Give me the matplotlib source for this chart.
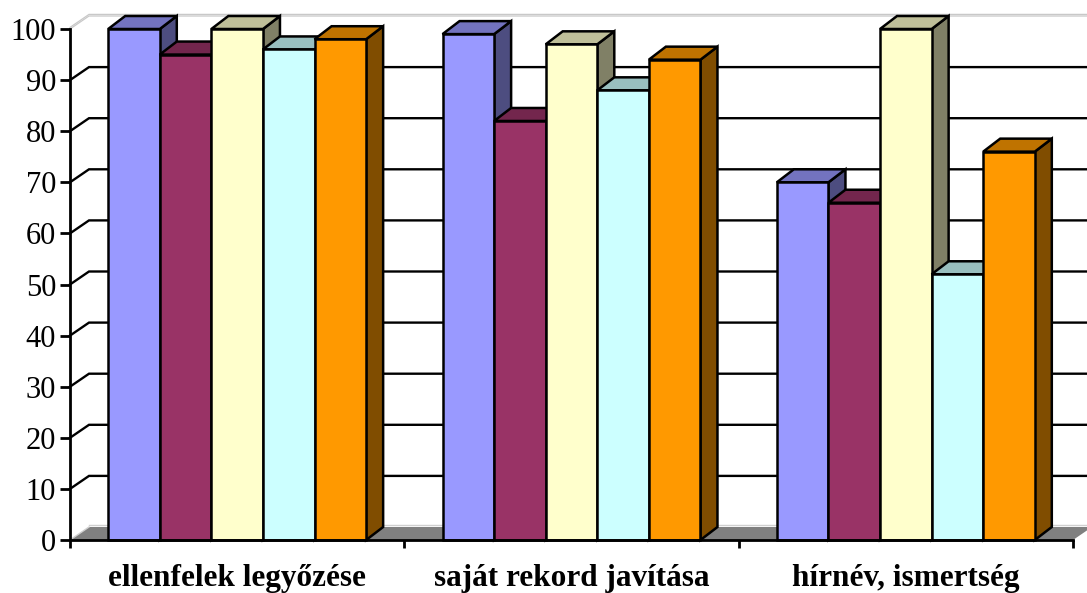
import matplotlib
matplotlib.use("Agg")
import matplotlib.pyplot as plt
from matplotlib.patches import Polygon
from matplotlib.colors import to_rgb

# Data
categories = ["ellenfelek legyőzése", "saját rekord javítása", "hírnév, ismertség"]
series_1 = [100, 99, 70]
series_2 = [95, 82, 66]
series_3 = [100, 97, 100]
series_4 = [96, 88, 52]
series_5 = [98, 94, 76]
series = [series_1, series_2, series_3, series_4, series_5]
series_colors = ["#9999FF", "#993366", "#FFFFCC", "#CCFFFF", "#FF9900"]
y_ticks = list(range(0, 101, 10))

W, H = 1087, 593
fig = plt.figure(figsize=(W / 100, H / 100), dpi=100)
fig.patch.set_facecolor("white")
ax = fig.add_axes([70 / W, 53 / H, 1003 / W, 511 / H])
ax.set_xlim(0, len(categories))
ax.set_ylim(0, 100)
ax.patch.set_visible(False)

# pixel sizes expressed in data units (for the oblique depth offsets)
px_x = len(categories) / 1003
px_y = 100 / 511
wall_dx, wall_dy = 19 * px_x, 13 * px_y
bar_dx, bar_dy = 17 * px_x, 13 * px_y
xmax = len(categories)


def shade(color, f):
    r, g, b = to_rgb(color)
    return (r * f, g * f, b * f)


# floor
floor = Polygon([(0, 0), (xmax, 0), (xmax + wall_dx, wall_dy), (wall_dx, wall_dy)],
                closed=True, facecolor="#808080", edgecolor="none", zorder=1, clip_on=False)
ax.add_patch(floor)
ax.plot([wall_dx, xmax + wall_dx], [wall_dy + 0.4, wall_dy + 0.4], color="#D0D0D0",
        lw=1.0, zorder=1.2, clip_on=False)
ax.plot([0, wall_dx], [0, wall_dy], color="#D0D0D0", lw=1.0, zorder=1.2, clip_on=False)

# back wall gridlines and side-wall diagonals
for v in y_ticks[1:-1]:
    ax.plot([0, wall_dx, xmax + wall_dx], [v, v + wall_dy, v + wall_dy],
            color="black", lw=1.7, zorder=1.5, clip_on=False, solid_joinstyle="miter")
for off in (0.0, 1.6 * px_y):
    ax.plot([0, wall_dx, xmax + wall_dx], [100 + off, 100 + wall_dy + off, 100 + wall_dy + off],
            color="#C8C8C8", lw=0.9, zorder=1.5, clip_on=False)

# 3D bars
n = len(series)
bw = 0.1543
start = (1 - n * bw) / 2
z = 3
for ci in range(len(categories)):
    for si in range(n):
        v = series[si][ci]
        col = series_colors[si]
        x0 = ci + start + si * bw
        x1 = x0 + bw
        side = Polygon([(x1, 0), (x1 + bar_dx, bar_dy), (x1 + bar_dx, v + bar_dy), (x1, v)],
                       closed=True, facecolor=shade(col, 0.5), edgecolor="black",
                       lw=1.8, joinstyle="miter", zorder=z, clip_on=False)
        top = Polygon([(x0, v), (x1, v), (x1 + bar_dx, v + bar_dy), (x0 + bar_dx, v + bar_dy)],
                      closed=True, facecolor=shade(col, 0.75), edgecolor="black",
                      lw=1.8, joinstyle="miter", zorder=z + 0.1, clip_on=False)
        front = Polygon([(x0, 0), (x1, 0), (x1, v), (x0, v)],
                        closed=True, facecolor=col, edgecolor="black",
                        lw=1.8, joinstyle="miter", zorder=z + 0.2, clip_on=False)
        for p in (side, top, front):
            ax.add_patch(p)
        z += 0.3

# axes, ticks and labels
for s in ("top", "right"):
    ax.spines[s].set_visible(False)
for s in ("left", "bottom"):
    ax.spines[s].set_color("black")
    ax.spines[s].set_linewidth(2.0)
    ax.spines[s].set_zorder(20)

ax.set_yticks(y_ticks)
ax.set_yticklabels([str(t) for t in y_ticks], fontfamily="Liberation Serif", fontsize=22)
ax.tick_params(axis="y", direction="out", length=7, width=2.0, pad=3.0)

ax.set_xticks(range(len(categories) + 1))
ax.set_xticklabels([""] * (len(categories) + 1))
ax.set_xticks([i + 0.5 for i in range(len(categories))], minor=True)
ax.set_xticklabels(categories, minor=True, fontfamily="Liberation Serif",
                   fontsize=22.5, fontweight="bold")
ax.tick_params(axis="x", which="major", direction="out", length=6, width=2.0)
ax.tick_params(axis="x", which="minor", length=0, pad=17.5)

fig.savefig("out.png", dpi=100, facecolor="white")
